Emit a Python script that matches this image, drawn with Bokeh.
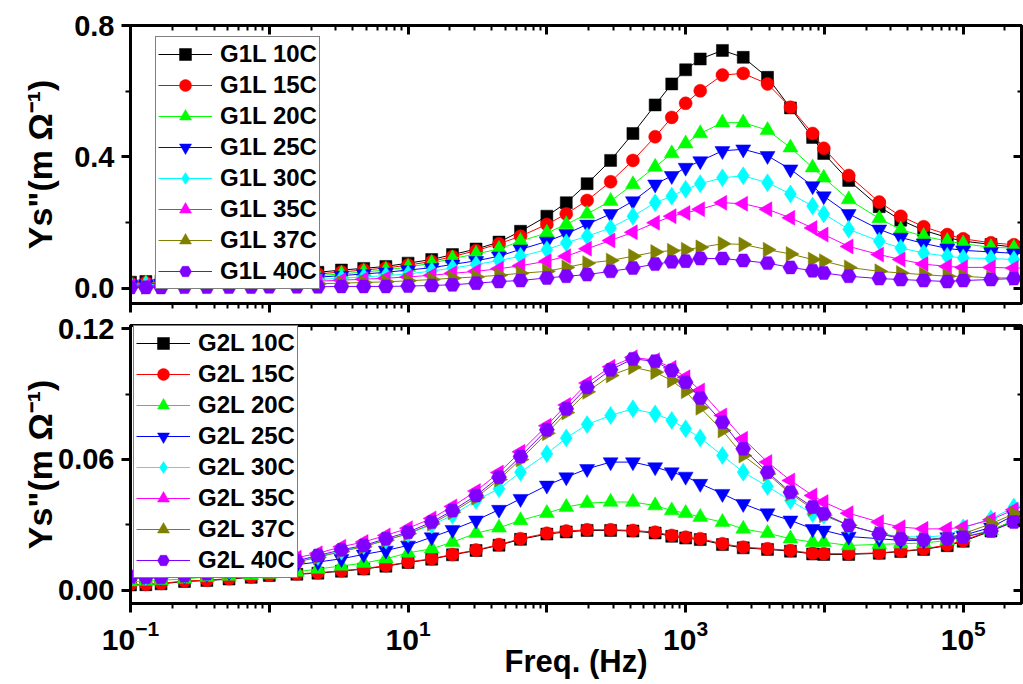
from math import pi
from bokeh.plotting import figure
from bokeh.layouts import column
from bokeh.models import (Range1d, FixedTicker, LogAxis, LinearAxis, Legend,
                          LegendItem, PrintfTickFormatter, CustomJSTickFormatter)
from bokeh.embed import file_html
from bokeh.resources import INLINE

FONT = "Liberation Sans"

# ---------------- data ----------------
freq = [0.1, 0.129, 0.166, 0.245, 0.355, 0.513, 0.741, 1.0, 1.58, 2.24, 3.31, 4.79,
        6.92, 10.0, 14.8, 20.9, 30.9, 45.2, 64.6, 100.0, 138.0, 195.0, 288.0, 417.0,
        603.0, 794.0, 1000.0, 1274.0, 1841.0, 2600.0, 3890.0, 5690.0, 8220.0, 9890.0,
        14960.0, 24830.0, 35480.0, 51880.0, 76740.0, 100000.0, 158500.0, 231700.0,
        316000.0]

g1l_labels = ["G1L 10C", "G1L 15C", "G1L 20C", "G1L 25C",
              "G1L 30C", "G1L 35C", "G1L 37C", "G1L 40C"]
g2l_labels = ["G2L 10C", "G2L 15C", "G2L 20C", "G2L 25C",
              "G2L 30C", "G2L 35C", "G2L 37C", "G2L 40C"]

g1l_10c = [0.018, 0.020, 0.022, 0.025, 0.028, 0.031, 0.035, 0.038, 0.043, 0.048,
           0.055, 0.060, 0.066, 0.076, 0.087, 0.102, 0.119, 0.140, 0.173, 0.219,
           0.260, 0.318, 0.389, 0.471, 0.558, 0.622, 0.665, 0.698, 0.724, 0.703,
           0.642, 0.549, 0.459, 0.410, 0.328, 0.248, 0.207, 0.176, 0.154, 0.143,
           0.133, 0.125, 0.120]
g1l_15c = [0.015, 0.017, 0.019, 0.021, 0.024, 0.027, 0.030, 0.034, 0.038, 0.043,
           0.049, 0.055, 0.061, 0.070, 0.081, 0.096, 0.114, 0.135, 0.158, 0.194,
           0.226, 0.267, 0.324, 0.389, 0.461, 0.520, 0.563, 0.601, 0.649, 0.654,
           0.622, 0.551, 0.471, 0.426, 0.343, 0.262, 0.219, 0.187, 0.163, 0.150,
           0.138, 0.132, 0.128]
g1l_20c = [0.013, 0.014, 0.016, 0.018, 0.020, 0.023, 0.026, 0.029, 0.033, 0.038,
           0.043, 0.049, 0.055, 0.064, 0.076, 0.090, 0.104, 0.119, 0.143, 0.168,
           0.194, 0.226, 0.265, 0.316, 0.369, 0.410, 0.440, 0.471, 0.504, 0.504,
           0.481, 0.428, 0.367, 0.336, 0.270, 0.212, 0.178, 0.158, 0.143, 0.135,
           0.124, 0.122, 0.120]
g1l_25c = [0.011, 0.012, 0.014, 0.015, 0.017, 0.020, 0.022, 0.025, 0.029, 0.033,
           0.038, 0.043, 0.048, 0.055, 0.062, 0.072, 0.083, 0.097, 0.118, 0.142,
           0.165, 0.194, 0.226, 0.265, 0.316, 0.342, 0.367, 0.387, 0.418, 0.423,
           0.403, 0.362, 0.311, 0.280, 0.226, 0.179, 0.154, 0.136, 0.121, 0.115,
           0.110, 0.106, 0.104]
g1l_30c = [0.009, 0.010, 0.011, 0.012, 0.014, 0.016, 0.018, 0.020, 0.023, 0.026,
           0.030, 0.034, 0.038, 0.043, 0.052, 0.061, 0.072, 0.084, 0.097, 0.117,
           0.138, 0.158, 0.183, 0.219, 0.260, 0.280, 0.301, 0.318, 0.336, 0.342,
           0.321, 0.287, 0.250, 0.226, 0.179, 0.143, 0.122, 0.107, 0.097, 0.092,
           0.090, 0.087, 0.086]
g1l_35c = [0.006, 0.007, 0.008, 0.009, 0.010, 0.012, 0.013, 0.015, 0.018, 0.021,
           0.024, 0.027, 0.030, 0.034, 0.039, 0.045, 0.051, 0.059, 0.068, 0.082,
           0.097, 0.120, 0.145, 0.170, 0.199, 0.219, 0.229, 0.240, 0.260, 0.257,
           0.240, 0.214, 0.183, 0.163, 0.127, 0.102, 0.087, 0.073, 0.066, 0.063,
           0.063, 0.061, 0.061]
g1l_37c = [0.004, 0.004, 0.005, 0.005, 0.006, 0.007, 0.008, 0.009, 0.011, 0.013,
           0.015, 0.017, 0.019, 0.022, 0.026, 0.030, 0.034, 0.039, 0.045, 0.051,
           0.063, 0.076, 0.084, 0.097, 0.110, 0.114, 0.117, 0.124, 0.135, 0.133,
           0.117, 0.104, 0.087, 0.082, 0.063, 0.051, 0.046, 0.041, 0.036, 0.036,
           0.031, 0.031, 0.030]
g1l_40c = [0.002, 0.002, 0.002, 0.003, 0.003, 0.003, 0.003, 0.004, 0.004, 0.004,
           0.005, 0.005, 0.005, 0.006, 0.008, 0.010, 0.015, 0.020, 0.023, 0.031,
           0.036, 0.041, 0.051, 0.061, 0.073, 0.080, 0.082, 0.090, 0.090, 0.084,
           0.076, 0.063, 0.053, 0.046, 0.036, 0.029, 0.026, 0.023, 0.020, 0.023,
           0.026, 0.029, 0.030]

g2l_10c = [0.0025, 0.0026, 0.0030, 0.0041, 0.0045, 0.0052, 0.0060, 0.0068, 0.0074, 0.0079,
           0.0088, 0.0098, 0.0111, 0.0128, 0.0143, 0.0163, 0.0183, 0.0207, 0.0234, 0.0258,
           0.0268, 0.0275, 0.0275, 0.0272, 0.0263, 0.0248, 0.0240, 0.0233, 0.0210, 0.0195,
           0.0188, 0.0180, 0.0167, 0.0165, 0.0165, 0.0170, 0.0178, 0.0188, 0.0205, 0.0225,
           0.0272, 0.0318, 0.0358]
g2l_15c = [0.0027, 0.0028, 0.0032, 0.0043, 0.0047, 0.0054, 0.0062, 0.0070, 0.0076, 0.0081,
           0.0090, 0.0100, 0.0113, 0.0130, 0.0145, 0.0165, 0.0185, 0.0210, 0.0237, 0.0262,
           0.0272, 0.0278, 0.0278, 0.0275, 0.0267, 0.0252, 0.0244, 0.0237, 0.0214, 0.0198,
           0.0191, 0.0183, 0.0170, 0.0168, 0.0168, 0.0172, 0.0180, 0.0190, 0.0208, 0.0228,
           0.0275, 0.0320, 0.0360]
g2l_20c = [0.0040, 0.0043, 0.0046, 0.0053, 0.0061, 0.0066, 0.0070, 0.0075, 0.0085, 0.0098,
           0.0112, 0.0125, 0.0145, 0.0172, 0.0191, 0.0221, 0.0262, 0.0287, 0.0321, 0.0354,
           0.0382, 0.0400, 0.0405, 0.0405, 0.0389, 0.0366, 0.0354, 0.0336, 0.0313, 0.0282,
           0.0262, 0.0237, 0.0221, 0.0221, 0.0206, 0.0211, 0.0214, 0.0217, 0.0229, 0.0244,
           0.0275, 0.0321, 0.0355]
g2l_25c = [0.0055, 0.0058, 0.0062, 0.0068, 0.0076, 0.0085, 0.0095, 0.0105, 0.0118, 0.0130,
           0.0145, 0.0165, 0.0183, 0.0206, 0.0244, 0.0278, 0.0321, 0.0370, 0.0420, 0.0481,
           0.0519, 0.0557, 0.0588, 0.0588, 0.0565, 0.0542, 0.0522, 0.0489, 0.0443, 0.0397,
           0.0354, 0.0321, 0.0282, 0.0275, 0.0247, 0.0237, 0.0229, 0.0229, 0.0244, 0.0252,
           0.0289, 0.0344, 0.0375]
g2l_30c = [0.0058, 0.0062, 0.0066, 0.0074, 0.0083, 0.0094, 0.0107, 0.0120, 0.0138, 0.0155,
           0.0180, 0.0205, 0.0230, 0.0260, 0.0300, 0.0344, 0.0412, 0.0466, 0.0542, 0.0626,
           0.0699, 0.0760, 0.0802, 0.0832, 0.0809, 0.0779, 0.0741, 0.0699, 0.0618, 0.0542,
           0.0476, 0.0412, 0.0351, 0.0344, 0.0298, 0.0260, 0.0247, 0.0244, 0.0252, 0.0287,
           0.0328, 0.0382, 0.0410]
g2l_35c = [0.0065, 0.0068, 0.0072, 0.0080, 0.0090, 0.0102, 0.0116, 0.0130, 0.0150, 0.0170,
           0.0200, 0.0222, 0.0252, 0.0285, 0.0330, 0.0385, 0.0455, 0.0540, 0.0635, 0.0755,
           0.0850, 0.0950, 0.1025, 0.1068, 0.1055, 0.1020, 0.0977, 0.0916, 0.0802, 0.0695,
           0.0588, 0.0504, 0.0435, 0.0405, 0.0354, 0.0313, 0.0290, 0.0282, 0.0282, 0.0290,
           0.0324, 0.0370, 0.0400]
g2l_37c = [0.0056, 0.0058, 0.0060, 0.0066, 0.0075, 0.0086, 0.0099, 0.0112, 0.0130, 0.0152,
           0.0178, 0.0200, 0.0230, 0.0260, 0.0305, 0.0358, 0.0425, 0.0508, 0.0600, 0.0720,
           0.0815, 0.0910, 0.0985, 0.1023, 0.1000, 0.0962, 0.0913, 0.0837, 0.0733, 0.0618,
           0.0534, 0.0443, 0.0374, 0.0344, 0.0298, 0.0260, 0.0244, 0.0232, 0.0241, 0.0260,
           0.0305, 0.0351, 0.0380]
g2l_40c = [0.0062, 0.0060, 0.0060, 0.0068, 0.0078, 0.0090, 0.0103, 0.0117, 0.0135, 0.0160,
           0.0186, 0.0206, 0.0237, 0.0267, 0.0313, 0.0366, 0.0435, 0.0519, 0.0614, 0.0736,
           0.0832, 0.0931, 0.1011, 0.1061, 0.1050, 0.1008, 0.0954, 0.0882, 0.0771, 0.0649,
           0.0542, 0.0450, 0.0382, 0.0351, 0.0298, 0.0260, 0.0237, 0.0232, 0.0237, 0.0244,
           0.0272, 0.0313, 0.0340]

g1l_series = [g1l_10c, g1l_15c, g1l_20c, g1l_25c, g1l_30c, g1l_35c, g1l_37c, g1l_40c]
g2l_series = [g2l_10c, g2l_15c, g2l_20c, g2l_25c, g2l_30c, g2l_35c, g2l_37c, g2l_40c]

x_major_ticks = [0.1, 1, 10, 100, 1000, 10000, 100000]
x_tick_blank = {1: "", 100: "", 10000: ""}
top_y_ticks = [0.0, 0.4, 0.8]
top_y_minor = [0.2, 0.6]
bot_y_ticks = [0.0, 0.06, 0.12]
bot_y_minor = [0.03, 0.09]

# ---------------- styles ----------------
colors = ["#000000", "#FF0000", "#00FF00", "#0000FF", "#00FFFF", "#FF00FF", "#808000", "#8000FF"]
markers = ["square", "circle", "triangle", "inverted_triangle", "diamond",
           "triangle", "triangle", "hex"]
angles = [0, 0, 0, 0, 0, pi / 2, -pi / 2, 0]
sizes = [12, 13, 15, 15, 18, 15, 15, 15]
x_minor_ticks = [m * d for d in x_major_ticks for m in range(2, 10)]
YLABEL = 'Ys"(m \u03a9\u207b\u00b9)'


def blank():
    return CustomJSTickFormatter(code="return ''")


def make_panel(series, labels, yr, yticks, yminor, yfmt, top_border, bottom_border,
               show_x, legend_loc, ylabel_standoff):
    p = figure(x_axis_type="log", x_range=Range1d(0.1, 2.63e5), y_range=Range1d(*yr),
               frame_width=891, frame_height=278,
               min_border_left=130, min_border_right=2,
               min_border_top=top_border, min_border_bottom=bottom_border,
               output_backend="svg", toolbar_location=None)
    p.xgrid.visible = False
    p.ygrid.visible = False
    p.outline_line_color = "black"
    p.outline_line_width = 3
    p.background_fill_color = "white"
    p.border_fill_color = "white"

    xa = p.xaxis[0]
    xa.ticker = FixedTicker(ticks=x_major_ticks, minor_ticks=x_minor_ticks)
    xa.axis_line_width = 3
    xa.major_tick_line_width = 3
    xa.minor_tick_line_width = 2
    xa.major_tick_out = 9
    xa.major_tick_in = 0
    xa.minor_tick_out = 5
    xa.minor_tick_in = 0
    xa.major_label_text_font = FONT
    xa.major_label_text_font_style = "bold"
    xa.major_label_text_color = "black"
    xa.major_label_text_font_size = "30px"
    if show_x:
        xa.major_label_overrides = x_tick_blank
        xa.major_label_standoff = 7
        xa.axis_label = "Freq. (Hz)"
        xa.axis_label_text_font = FONT
        xa.axis_label_text_font_style = "bold"
        xa.axis_label_text_font_size = "31px"
        xa.axis_label_text_color = "black"
        xa.axis_label_standoff = -9
    else:
        xa.formatter = blank()
        xa.major_label_standoff = 0

    ya = p.yaxis[0]
    ya.ticker = FixedTicker(ticks=yticks, minor_ticks=yminor)
    ya.formatter = PrintfTickFormatter(format=yfmt)
    ya.axis_line_width = 3
    ya.major_tick_line_width = 3
    ya.minor_tick_line_width = 2
    ya.major_tick_out = 9
    ya.major_tick_in = 0
    ya.minor_tick_out = 5
    ya.minor_tick_in = 0
    ya.major_label_text_font = FONT
    ya.major_label_text_font_style = "bold"
    ya.major_label_text_font_size = "29px"
    ya.major_label_text_color = "black"
    ya.major_label_standoff = 7
    ya.axis_label = YLABEL
    ya.axis_label_text_font = FONT
    ya.axis_label_text_font_style = "bold"
    ya.axis_label_text_font_size = "34px"
    ya.axis_label_text_color = "black"
    ya.axis_label_standoff = ylabel_standoff

    top_ax = LogAxis(ticker=FixedTicker(ticks=x_major_ticks, minor_ticks=x_minor_ticks),
                     formatter=blank(), major_label_standoff=0,
                     axis_line_width=3, major_tick_line_width=3, minor_tick_line_width=2,
                     major_tick_in=9, major_tick_out=0, minor_tick_in=5, minor_tick_out=0)
    p.add_layout(top_ax, "above")
    right_ax = LinearAxis(ticker=FixedTicker(ticks=yticks, minor_ticks=yminor),
                          formatter=blank(), major_label_standoff=0,
                          axis_line_width=3, major_tick_line_width=3, minor_tick_line_width=2,
                          major_tick_in=8, major_tick_out=0, minor_tick_in=4, minor_tick_out=0)
    p.add_layout(right_ax, "right")

    items = []
    for vals, lab, col, mk, ang, sz in zip(series, labels, colors, markers, angles, sizes):
        lr = p.line(freq, vals, line_color=col, line_width=1)
        sr = p.scatter(freq, vals, marker=mk, angle=ang, size=sz,
                       fill_color=col, line_color=col, line_width=0.5)
        items.append(LegendItem(label=lab, renderers=[lr, sr]))
    leg = Legend(items=items, location=legend_loc,
                 glyph_width=54, glyph_height=30, label_height=30, spacing=1,
                 padding=2, label_standoff=8, margin=0,
                 label_text_font=FONT, label_text_font_style="bold",
                 label_text_font_size="24px", label_text_color="black",
                 border_line_color="black", border_line_width=1,
                 background_fill_color="white", background_fill_alpha=1.0)
    p.add_layout(leg, "center")
    return p


p1 = make_panel(g1l_series, g1l_labels, (-0.047, 0.8), top_y_ticks, top_y_minor, "%.1f",
                25, 11, False, (25, 14), 12)
p2 = make_panel(g2l_series, g2l_labels, (-0.006, 0.1214), bot_y_ticks, bot_y_minor, "%.2f",
                11, 81, True, (3, 25), -4)

layout = column(p1, p2, spacing=0)
open("out.html", "w").write(file_html(layout, INLINE))
